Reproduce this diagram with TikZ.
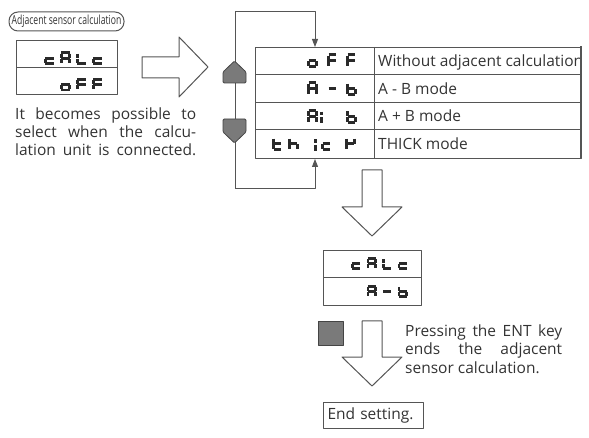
\documentclass[tikz,border=0pt]{standalone}
\usepackage{fontspec}
\setmainfont{Open Sans}
\usepackage{graphicx}
\usepackage{xcolor}
\usetikzlibrary{arrows.meta, positioning, calc}

\definecolor{linegray}{HTML}{555555}
\definecolor{txtgray}{HTML}{333333}
\definecolor{btngray}{HTML}{7A7A7A}
\definecolor{btnedge}{HTML}{444444}
\definecolor{segcolor}{HTML}{2A2A2A}

% seven segment pieces (unit box, y downwards)
\def\segpatha{(0,0) -- (1,0)}
\def\segpathb{(1,0.06) -- (1,0.46)}
\def\segpathc{(1,0.54) -- (1,0.94)}
\def\segpathd{(0,1) -- (1,1)}
\def\segpathe{(0,0.54) -- (0,0.94)}
\def\segpathf{(0,0.06) -- (0,0.46)}
\def\segpathg{(0,0.5) -- (1,0.5)}
\def\segpathp{(0,0.1) -- (0,0.38)}
\def\segpathq{(0,0.58) -- (0,1.05)}
\def\segt{2.6}
\def\segw{7.9}
\def\segh{12.4}

% one display character: left, top, segments
\newcommand{\segchar}[3]{%
  \begin{scope}[shift={(#1+\segt/2,#2+\segt/2)}, x=\segw pt, y=-\segh pt]
    \foreach \s in {#3}{\edef\segtmp{\noexpand\draw[segstroke] \csname segpath\s\endcsname;}\segtmp}
  \end{scope}}

\begin{document}
\begin{tikzpicture}[x=1pt, y=-1pt, line join=round,
  every node/.style={font=\fontsize{15.5}{18}\selectfont, text=txtgray, inner sep=0pt},
  frame/.style={draw=linegray, line width=1pt},
  hollow/.style={draw=linegray, fill=white, line width=1pt},
  button/.style={draw=btnedge, fill=btngray, line width=0.8pt, rounded corners=1.2pt},
  flow/.style={draw=linegray, line width=1pt, -{Triangle[length=8pt,width=6pt]}},
  segstroke/.style={draw=segcolor, line width=\segt pt, line cap=butt}]
  \useasboundingbox (0,0) rectangle (589,438);

  % starting display
  \node[frame, rounded corners=9pt, minimum width=115pt, minimum height=19pt] (title) at (66.5,21.5)
    {\scalebox{0.69}[1]{\fontsize{12.5}{12}\selectfont Adjacent sensor calculation}};
  \node[frame, anchor=north west, minimum width=101pt, minimum height=54pt] (disp1) at (16,40) {};
  \draw[frame] (disp1.west) -- (disp1.east);
  \def\segt{2.8}\def\segw{8.2}\def\segh{10.6}
  \segchar{44}{51.5}{g,e,d}
  \segchar{60}{51.5}{a,b,c,e,f,g}
  \segchar{76}{51.5}{f,e,d}
  \segchar{92}{51.5}{g,e,d}
  \segchar{60}{78}{g,c,d,e}
  \segchar{76}{78}{a,f,g,e}
  \segchar{92}{78}{a,f,g,e}

  \node[anchor=base west] (note1) at (15,120) {\makebox[181pt][s]{It becomes possible to}};
  \node[anchor=base west] (note2) at (15,138) {\makebox[181pt][s]{select when the calcu-}};
  \node[anchor=base west] (note3) at (15,156) {\makebox[181pt][s]{lation unit is connected.}};

  \draw[hollow] (142,57) -- (179,57) -- (179,37) -- (208,67) -- (179,97) -- (179,78) -- (142,78) -- cycle;

  % selection loop
  \node[frame, anchor=north west, minimum width=326pt, minimum height=111pt] (tbl) at (255,47) {};
  \coordinate (lpa) at (235,189);
  \coordinate (lpb) at (235,12);
  \coordinate (lpc) at (315,12);
  \coordinate (lpd) at (315,189);
  \draw[flow] (lpb) -- (lpc) -- (lpc |- tbl.north);
  \draw[flow] (lpa) -- (lpd) -- (lpd |- tbl.south);
  \draw[frame] (lpa) -- (lpb);
  \draw[button] (223,83) -- (223,72) -- (234.5,61) -- (246,72) -- (246,83) -- cycle;
  \draw[button] (223,119) -- (246,119) -- (246,132) -- (234.5,143) -- (223,132) -- cycle;

  \foreach \yy in {75,103,130} \draw[frame] (255,\yy) -- (581,\yy);
  \draw[frame] (374,47) -- (374,158);
  \def\segt{3}\def\segw{7.6}\def\segh{12}
  \segchar{307}{53.5}{g,c,d,e}
  \segchar{327}{53.5}{a,f,g,e}
  \segchar{346}{53.5}{a,f,g,e}
  \segchar{307}{81.5}{a,b,c,e,f,g}
  \segchar{327}{81.5}{g}
  \segchar{346}{81.5}{f,e,d,c,g}
  \segchar{307}{109}{a,b,c,e,f,g}
  \segchar{320}{109}{p,q}
  \segchar{346}{109}{f,e,d,c,g}
  \segchar{272}{136.5}{f,e,d,g}
  \segchar{288}{136.5}{f,e,g,c}
  \segchar{314}{136.5}{p,q}
  \segchar{321}{136.5}{g,e,d}
  \segchar{345}{136.5}{f,b,g,e}

  \node[anchor=base west] (mode1) at (378,66.5) {Without adjacent calculation};
  \node[anchor=base west] (mode2) at (378,94.5) {A - B mode};
  \node[anchor=base west] (mode3) at (378,122) {A + B mode};
  \node[anchor=base west] (mode4) at (378,149.5) {THICK mode};
  \draw[draw=linegray, line width=2.2pt] (581,46.5) -- (581,158.5);

  \draw[hollow] (362,170) -- (382,170) -- (382,207) -- (402,207) -- (372,236) -- (342,207) -- (362,207) -- cycle;

  % result display
  \node[frame, anchor=north west, minimum width=98pt, minimum height=55pt] (disp2) at (323,250) {};
  \draw[frame] (disp2.west) -- (disp2.east);
  \def\segt{2.8}\def\segw{7.9}\def\segh{10}
  \segchar{351}{257.5}{g,e,d}
  \segchar{366.5}{257.5}{a,b,c,e,f,g}
  \segchar{382}{257.5}{f,e,d}
  \segchar{397.5}{257.5}{g,e,d}
  \segchar{366.5}{285}{a,b,c,e,f,g}
  \segchar{382}{285}{g}
  \segchar{397.5}{285}{f,e,d,c,g}

  \node[draw=btnedge, fill=btngray, line width=0.8pt, minimum width=25pt, minimum height=24pt] (entkey) at (330.5,333) {};
  \draw[hollow] (362,321) -- (382,321) -- (382,357) -- (402,357) -- (372,386) -- (342,357) -- (362,357) -- cycle;
  \node[anchor=base west] (ent1) at (405,337) {\makebox[157pt][s]{Pressing the ENT key}};
  \node[anchor=base west] (ent2) at (405,355) {\makebox[157pt][s]{ends the adjacent}};
  \node[anchor=base west] (ent3) at (405,373) {sensor calculation.};

  \node[frame, anchor=north west, text width=92pt, inner xsep=4pt, minimum height=26pt] (endset) at (323,402) {End setting.};
\end{tikzpicture}
\end{document}
